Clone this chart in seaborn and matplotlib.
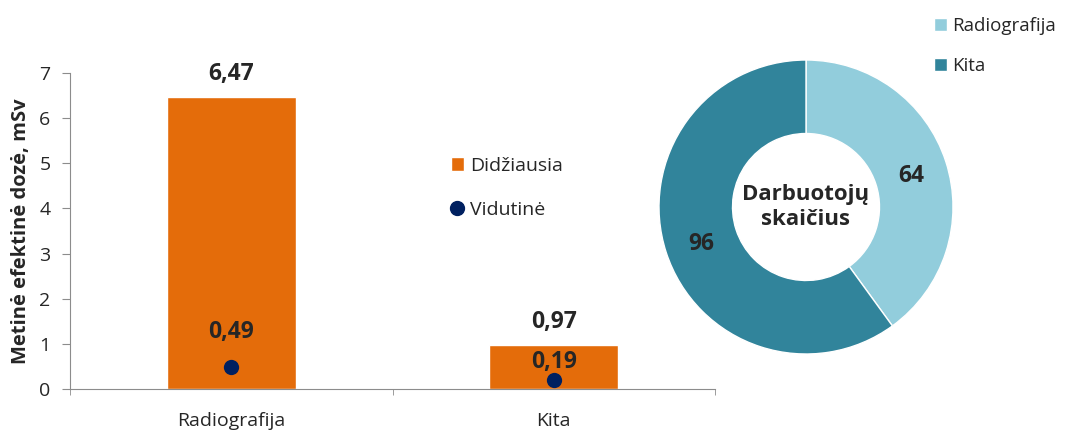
import numpy as np
import pandas as pd
import matplotlib
matplotlib.use("Agg")
import matplotlib.pyplot as plt
from matplotlib.lines import Line2D
from matplotlib.patches import Patch
import seaborn as sns

sns.set_style("white")
plt.rcParams["font.family"] = ["Open Sans", "DejaVu Sans"]

# duomenys
kategorijos = ["Radiografija", "Kita"]
didziausia = [6.47, 0.97]
vidutine = [0.49, 0.19]
darbuotojai = [64, 96]

oranzine = "#E46C0A"
melyna = "#002060"
donut_spalvos = ["#92CDDC", "#31849B"]
pilka = "#8C8C8C"

fig = plt.figure(figsize=(10.67, 4.3), dpi=100)

## stulpeline diagrama
ax = fig.add_axes([70 / 1067, 1 - 389 / 430, 645 / 1067, 316 / 430])
df = pd.DataFrame({"kat": kategorijos, "max": didziausia, "vid": vidutine})
sns.barplot(data=df, x="kat", y="max", color=oranzine, width=0.4,
            saturation=1, ax=ax)
sns.stripplot(data=df, x="kat", y="vid", color=melyna, jitter=False,
              size=11, ax=ax, zorder=5)
ax.set_ylim(0, 7)
ax.set_xlim(-0.5, 1.5)
ax.set_yticks(range(8))
ax.set_xticks([-0.5, 0.5, 1.5], minor=True)
ax.set_xlabel("")
ax.set_ylabel("Metinė efektinė dozė, mSv", fontsize=14.5, fontweight="bold",
              labelpad=6)
ax.tick_params(axis="y", labelsize=14, left=True, length=6, color=pilka,
               pad=8)
ax.tick_params(axis="x", labelsize=14, bottom=False, pad=13)
ax.tick_params(axis="x", which="minor", bottom=True, length=4, color=pilka)
for s in ["top", "right"]:
    ax.spines[s].set_visible(False)
for s in ["left", "bottom"]:
    ax.spines[s].set_color(pilka)

# reiksmiu etiketes
for i, v in enumerate(didziausia):
    ax.annotate(f"{v:.2f}".replace(".", ","), (i, v), xytext=(0, 17),
                textcoords="offset pixels", ha="center", va="baseline",
                fontsize=16.5, fontweight="bold")
for i, (v, dy) in enumerate(zip(vidutine, [29, 12])):
    ax.annotate(f"{v:.2f}".replace(".", ","), (i, v), xytext=(0, dy),
                textcoords="offset pixels", ha="center", va="baseline",
                fontsize=16.5, fontweight="bold", zorder=6)

handles = [Patch(facecolor=oranzine, label="Didžiausia"),
           Line2D([], [], marker="o", linestyle="", color=melyna,
                  markersize=10, label="Vidutinė")]
ax.legend(handles=handles, loc="upper left", bbox_to_anchor=(0.563, 0.79),
          frameon=False, fontsize=14, handlelength=0.7, handletextpad=0.3,
          labelspacing=1.35)

## ziedine diagrama
ax2 = fig.add_axes([(806 - 147) / 1067, (430 - 207 - 147) / 430,
                    294 / 1067, 294 / 430])
wedges, _ = ax2.pie(darbuotojai, colors=donut_spalvos, startangle=90,
                    counterclock=False, radius=1,
                    wedgeprops=dict(width=0.5, edgecolor="white",
                                    linewidth=1))
ax2.set_xlim(-1, 1)
ax2.set_ylim(-1, 1)
ax2.set_aspect("equal")
ax2.axis("off")

for w, v in zip(wedges, darbuotojai):
    vid = np.deg2rad((w.theta1 + w.theta2) / 2)
    ax2.text(0.75 * np.cos(vid), 0.75 * np.sin(vid) - 0.02, str(v),
             ha="center", va="center", fontsize=16.5, fontweight="bold")
ax2.text(0, 0, "Darbuotojų\nskaičius", ha="center", va="center",
         fontsize=16, fontweight="bold", linespacing=1.2)

fig.legend(handles=[Patch(facecolor=c, label=k)
                    for c, k in zip(donut_spalvos, kategorijos)],
           loc="upper left", bbox_to_anchor=(917 / 1067, 1 - 0 / 430),
           frameon=False, fontsize=13.5, handlelength=0.7, handletextpad=0.3,
           labelspacing=1.2)

fig.savefig("out.png", dpi=100)
